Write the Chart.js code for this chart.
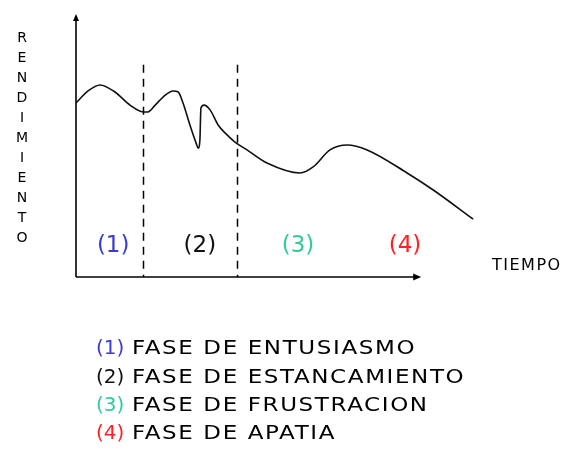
<!DOCTYPE html>
<html><head><meta charset="utf-8">
<script src="https://cdn.jsdelivr.net/npm/chart.js@4"></script>
<style>html,body{margin:0;padding:0;background:#fff}#wrap{width:567px;height:449px}</style>
</head><body><div id="wrap"><canvas id="c" width="567" height="449"></canvas></div>
<script>
// time (x) and performance (y)
const tiempo = [0, 3.5, 7.0, 11.3, 15.7, 19.5, 20.9, 23.0, 25.3, 28.2, 29.7, 31.1, 33.1, 34.9, 35.5, 36.0, 36.3, 37.2, 39.0, 41.3, 43.3, 46.2, 49.7, 55.5, 65.1, 68.9, 73.8, 78.8, 84.6, 96.2, 103.8, 115.4];
const rendimiento = [66.4, 71.0, 73.3, 70.6, 65.6, 63.0, 63.0, 65.6, 68.7, 71.0, 70.6, 66.4, 58.0, 51.1, 49.2, 52.3, 64.5, 65.6, 63.7, 58.0, 55.0, 51.5, 48.5, 43.5, 39.7, 42.0, 48.5, 50.4, 48.5, 39.7, 33.2, 22.1];
const phaseBounds = [19.5, 46.8];
const phaseLabels = ['(1)', '(2)', '(3)', '(4)'];
const phaseNames = ['FASE DE ENTUSIASMO', 'FASE DE ESTANCAMIENTO', 'FASE DE FRUSTRACION', 'FASE DE APATIA'];
const phaseColors = ['#3b3bd0', '#111111', '#2fcc99', '#ff2222'];
const yTitle = 'RENDIMIENTO';
const xTitle = 'TIEMPO';

const xAxisEnd = 100, dashTop = 81;
const labelX = [10.8, 36, 64.5, 95.6], labelY = 11.8;
const FONT = '"DejaVu Sans", "Liberation Sans", sans-serif';

const decor = {
  id: 'decor',
  beforeDatasetsDraw(chart) {
    const {ctx, scales: {x, y}} = chart;
    const x0 = x.getPixelForValue(0), y0 = y.getPixelForValue(0);
    ctx.save();
    ctx.strokeStyle = '#000'; ctx.fillStyle = '#000'; ctx.lineWidth = 1.6;
    // y axis
    const yTop = y.getPixelForValue(100);
    ctx.beginPath(); ctx.moveTo(x0, y0); ctx.lineTo(x0, yTop + 2); ctx.stroke();
    ctx.beginPath(); ctx.moveTo(x0, yTop - 1); ctx.lineTo(x0 - 3, yTop + 6); ctx.lineTo(x0 + 3, yTop + 6); ctx.closePath(); ctx.fill();
    // x axis
    const xEnd = x.getPixelForValue(xAxisEnd);
    ctx.beginPath(); ctx.moveTo(x0, y0); ctx.lineTo(xEnd - 2, y0); ctx.stroke();
    ctx.beginPath(); ctx.moveTo(xEnd + 1, y0); ctx.lineTo(xEnd - 7, y0 - 3.5); ctx.lineTo(xEnd - 7, y0 + 3.5); ctx.closePath(); ctx.fill();
    // dashed boundaries
    ctx.setLineDash([8, 6]); ctx.lineWidth = 1.5;
    phaseBounds.forEach(b => {
      const px = Math.round(x.getPixelForValue(b)) + 0.5;
      ctx.beginPath(); ctx.moveTo(px, y.getPixelForValue(dashTop)); ctx.lineTo(px, y0); ctx.stroke();
    });
    ctx.setLineDash([]);
    // phase labels
    ctx.font = '23px ' + FONT; ctx.textAlign = 'center'; ctx.textBaseline = 'middle';
    phaseLabels.forEach((t, i) => {
      ctx.fillStyle = phaseColors[i];
      ctx.fillText(t, x.getPixelForValue(labelX[i]), y.getPixelForValue(labelY));
    });
    // y title, stacked letters
    ctx.fillStyle = '#000'; ctx.font = '14px ' + FONT;
    const letters = yTitle.split('');
    letters.forEach((ch, i) => ctx.fillText(ch, 22, 38 + i * 20));
    // x title
    ctx.textAlign = 'left'; ctx.font = '16px ' + FONT;
    ctx.letterSpacing = '1.5px';
    ctx.fillText(xTitle, 492, 266);
    // legend (slightly widened glyphs)
    ctx.font = '20px ' + FONT;
    const sx = 1.15;
    phaseLabels.forEach((t, i) => {
      const ly = 349 + i * 28.3;
      ctx.letterSpacing = '0px';
      ctx.fillStyle = phaseColors[i];
      ctx.fillText(t, 96, ly);
      ctx.save();
      ctx.translate(132, ly); ctx.scale(sx, 1);
      ctx.letterSpacing = '1.4px';
      ctx.fillStyle = '#000';
      ctx.fillText(phaseNames[i], 0, 0);
      ctx.restore();
    });
    ctx.restore();
  }
};

new Chart(document.getElementById('c'), {
  type: 'line',
  data: { datasets: [{
    data: tiempo.map((t, i) => ({x: t, y: rendimiento[i]})),
    borderColor: '#111', borderWidth: 1.6, pointRadius: 0,
    cubicInterpolationMode: 'monotone', fill: false
  }]},
  options: {
    responsive: false, animation: false,
    layout: { padding: { left: 76, top: 15, bottom: 172, right: 78 } },
    plugins: { legend: { display: false }, tooltip: { enabled: false } },
    scales: {
      x: { type: 'linear', min: 0, max: 120, display: false },
      y: { min: 0, max: 100, display: false }
    }
  },
  plugins: [decor]
});
</script>
</body></html>
